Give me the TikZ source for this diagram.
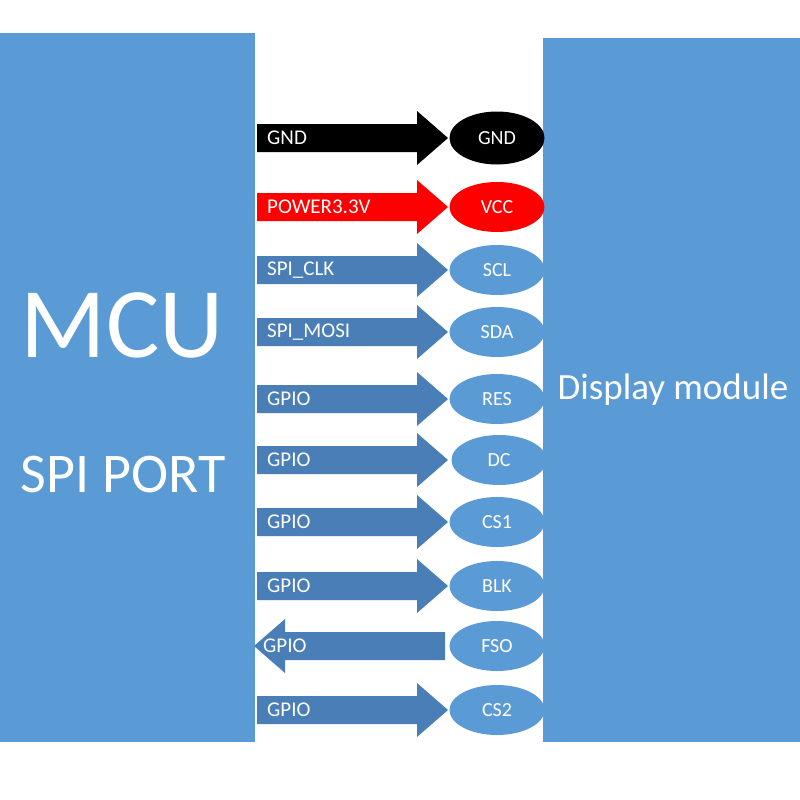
\documentclass[tikz,border=0pt]{standalone}
\usepackage{fontspec}
\setmainfont{Carlito}
\usetikzlibrary{shapes.geometric,shapes.arrows}
\definecolor{box}{HTML}{5B9BD5}
\definecolor{arr}{HTML}{4A7EB6}
\begin{document}
\begin{tikzpicture}[x=1pt,y=-1pt,
  lbl/.style={text=white,font=\fontsize{21}{21}\selectfont,anchor=west,inner sep=0pt},
  pin/.style={ellipse,minimum width=95pt,minimum height=50pt,inner sep=0pt,text=white,font=\fontsize{20}{20}\selectfont},
  blk/.style={rectangle,inner sep=0pt}]
\useasboundingbox (0,0) rectangle (800,800);
\fill[white] (0,0) rectangle (800,800);
\node[blk,fill=box,minimum width=255pt,minimum height=709pt,anchor=north west] (mcu) at (0,33) {};
\node[blk,fill=box,minimum width=257pt,minimum height=704pt,anchor=north west] (disp) at (543,38) {};
\node[text=white,font=\fontsize{100}{100}\selectfont] (t1) at (122,325) {MCU};
\node[text=white,font=\fontsize{56}{56}\selectfont] (t2) at (123,475) {SPI PORT};
\node[text=white,font=\fontsize{37}{37}\selectfont] (t3) at (673,390) {Display module};
\newcommand{\rarrow}[4]{% y, color, label, pin name
  \fill[#2] (257,#1-14) -- (417,#1-14) -- (417,#1-27) -- (448,#1) -- (417,#1+27) -- (417,#1+14) -- (257,#1+14) -- cycle;
  \node[lbl] at (267,#1) {#3};}
\rarrow{138}{black}{GND}{}
\node[pin,fill=black,minimum height=53pt] (gnd) at (497,138) {GND};
\rarrow{207}{red}{POWER3.3V}{}
\node[pin,fill=red] (vcc) at (497,207) {VCC};
\rarrow{270}{arr}{SPI\_CLK}{}
\node[pin,fill=box] (scl) at (497,270) {SCL};
\rarrow{332}{arr}{SPI\_MOSI}{}
\node[pin,fill=box] (sda) at (497,332) {SDA};
\rarrow{399}{arr}{GPIO}{}
\node[pin,fill=box] (res) at (497,399) {RES};
\rarrow{460}{arr}{GPIO}{}
\node[pin,fill=box] (dc) at (499,460) {DC};
\rarrow{522}{arr}{GPIO}{}
\node[pin,fill=box] (cs1) at (497,522) {CS1};
\rarrow{586}{arr}{GPIO}{}
\node[pin,fill=box] (bl) at (497,586) {BLK};
\fill[arr] (445,632) -- (285,632) -- (285,619) -- (254,646) -- (285,673) -- (285,660) -- (445,660) -- cycle;
\node[lbl] at (263,646) {GPIO};
\node[pin,fill=box] (fso) at (497,646) {FSO};
\rarrow{710}{arr}{GPIO}{}
\node[pin,fill=box] (cs2) at (497,710) {CS2};
\end{tikzpicture}
\end{document}
